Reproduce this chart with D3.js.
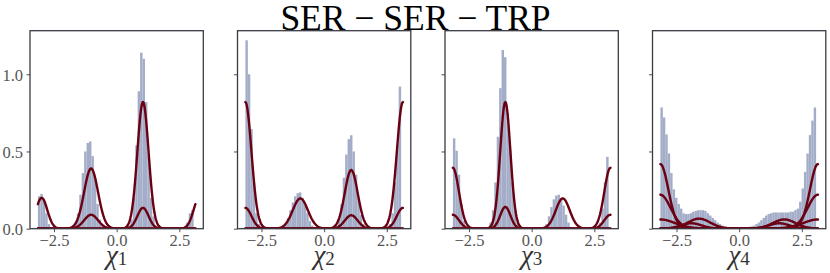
<!DOCTYPE html>
<html><head><meta charset="utf-8">
<script src="https://cdn.jsdelivr.net/npm/d3@7"></script>
<style>body{margin:0;background:#fff}svg{display:block}</style>
</head><body>
<svg id="chart" width="830" height="273"></svg>
<script>
// ---- data ----
const title = "SER \u2212 SER \u2212 TRP";
const panelLabels = ["1", "2", "3", "4"];
const xTicks = [-2.5, 0.0, 2.5];
const yTicks = [0.0, 0.5, 1.0];
const histRange = [-3.14, 3.07];
const binCount = 64;
const hist1 = [0.21,0.225,0.19,0.1,0.03,0.01, 0,0,0,0,0,0,0,0,
  0.01,0.04,0.1,0.22,0.36,0.5,0.555,0.565,0.47,0.32,0.16,0.06,0.02,
  0,0,0,0,0,0,0,0,0,0,
  0.02,0.06,0.2,0.54,0.89,1.14,1.1,0.82,0.48,0.2,0.08,0.02,
  0,0,0,0,0,0,0,0,0,0,0,
  0.01,0.04,0.1,0.12];
const hist2 = [1.22,1.0,0.645,0.3,0.1,0.03,0.01, 0,0,0,0,0,0,0,0,
  0.01,0.03,0.07,0.12,0.17,0.21,0.23,0.235,0.2,0.15,0.1,0.05,0.02,0.01,
  0,0,0,0,0,0,0,0,
  0.02,0.06,0.16,0.33,0.48,0.58,0.605,0.5,0.35,0.2,0.09,0.03,0.01,
  0,0,0,0,0,0,0,0,
  0.01,0.03,0.1,0.3,0.54,0.92];
const hist3 = [0.585,0.505,0.35,0.16,0.05,0.01, 0,0,0,0,0,0,0,0,
  0.01,0.04,0.12,0.3,0.595,0.91,1.157,1.11,0.75,0.51,0.3,0.12,0.04,0.01,
  0,0,0,0,0,0,0,0,
  0,0.01,0.03,0.08,0.14,0.19,0.215,0.22,0.2,0.15,0.09,0.04,0.01,0,
  0,0,0,0,0,0,0,0,
  0.005,0.01,0.04,0.13,0.3,0.465];
const hist4 = [0.785,0.72,0.61,0.487,0.36,0.255,0.2,0.16,0.13,0.1,0.095,0.095,0.1,0.11,0.115,0.12,
  0.12,0.12,0.115,0.1,0.085,0.07,0.055,0.04,0.03,0.02,0.015,0.012,0.01,0.008,0.006,0.005,
  0.005,0.006,0.008,0.01,0.012,0.015,0.02,0.03,0.04,0.055,0.07,0.085,0.095,0.1,0.105,0.105,
  0.105,0.105,0.105,0.105,0.105,0.11,0.11,0.12,0.13,0.175,0.26,0.368,0.487,0.606,0.7,0.785];
// fitted components: [centre, peak height, concentration]
const comps1 = [[-2.99,0.2,20],[-1.02,0.39,13],[-1.02,0.09,13],[1.05,0.82,20],[1.05,0.135,20]];
const comps2 = [[3.1416,0.82,17],[3.1416,0.135,17],[-0.95,0.196,11],[1.08,0.38,15],[1.08,0.087,15]];
const comps3 = [[3.1416,0.394,17],[3.1416,0.09,17],[-1.05,0.82,24],[-1.05,0.141,24],[1.24,0.196,13]];
const comps4 = [[3.1416,0.418,10],[3.1416,0.22,6],[3.1416,0.06,3],[-1.6,0.065,5],[1.8,0.06,5],[-1.9,0.035,6],[1.6,0.035,6]];
const curveRange = [-Math.PI, Math.PI];

const hists = [hist1, hist2, hist3, hist4];
const comps = [comps1, comps2, comps3, comps4];

// ---- layout ----
const svg = d3.select("#chart");
const plotTop = 30.7, plotBottom = 228.7;
const panelW = 173.3, gap = 207.5, left0 = 30;
const barColor = "#a3adc8";
const lineColor = "#6b0012";
const spineColor = "#3a3a44";
const tickTextColor = "#555";
const serif = "'Liberation Serif','Times New Roman',serif";

const y = d3.scaleLinear().domain([0, 1.282]).range([plotBottom, plotTop]);

svg.append("text")
  .attr("x", 415.5).attr("y", 29.5)
  .attr("text-anchor", "middle")
  .style("font-family", serif).style("font-size", "35.5px").style("fill", "#000")
  .text(title);

const defs = svg.append("defs");

hists.forEach((hist, i) => {
  const x0 = left0 + i * gap;
  const x = d3.scaleLinear().domain([-3.456, 3.456]).range([x0, x0 + panelW]);
  defs.append("clipPath").attr("id", "clip" + i).append("rect")
    .attr("x", x0).attr("y", plotTop).attr("width", panelW).attr("height", plotBottom - plotTop);
  const g = svg.append("g");
  const plot = g.append("g").attr("clip-path", `url(#clip${i})`);
  const bw = (histRange[1] - histRange[0]) / binCount;
  const bins = hist.map((v, k) => ({a: histRange[0] + k * bw, b: histRange[0] + (k + 1) * bw, v}));
  plot.selectAll("rect.bar").data(bins).enter().append("rect")
    .attr("class", "bar")
    .attr("x", d => x(d.a)).attr("width", d => x(d.b) - x(d.a))
    .attr("y", d => y(d.v)).attr("height", d => y(0) - y(d.v))
    .attr("fill", barColor);

  const xs = d3.range(0, 301).map(k => curveRange[0] + (curveRange[1] - curveRange[0]) * k / 300);
  const line = d3.line().x(d => x(d[0])).y(d => y(d[1]));
  comps[i].forEach(c => {
    const pts = xs.map(t => [t, c[1] * Math.exp(c[2] * (Math.cos(t - c[0]) - 1))]);
    plot.append("path").attr("d", line(pts))
      .attr("fill", "none").attr("stroke", lineColor)
      .attr("stroke-width", 2.4).attr("stroke-linejoin", "round").attr("stroke-linecap", "round");
  });

  g.append("rect").attr("x", x0).attr("y", plotTop).attr("width", panelW).attr("height", plotBottom - plotTop)
    .attr("fill", "none").attr("stroke", spineColor).attr("stroke-width", 1.3);

  const xa = g.append("g").attr("transform", `translate(0,${plotBottom})`)
    .call(d3.axisBottom(x).tickValues(xTicks).tickSize(3.5).tickPadding(2.5)
      .tickFormat(d => d3.format(".1f")(d).replace("-", "\u2212")));
  xa.select(".domain").remove();
  xa.selectAll("line").attr("stroke", spineColor).attr("stroke-width", 0.9);
  xa.selectAll("text").style("font-family", serif).style("font-size", "16.5px").style("fill", tickTextColor);

  const ya = g.append("g").attr("transform", `translate(${x0},0)`)
    .call(d3.axisLeft(y).tickValues(yTicks).tickSize(3.5).tickPadding(3.5)
      .tickFormat(i === 0 ? d3.format(".1f") : () => ""));
  ya.select(".domain").remove();
  ya.selectAll("line").attr("stroke", spineColor).attr("stroke-width", 0.9);
  ya.selectAll("text").style("font-family", serif).style("font-size", "16.5px").style("fill", tickTextColor)
    .attr("dy", "0.35em");

  const lab = g.append("text").attr("x", x0 + panelW / 2).attr("y", 263.5)
    .attr("text-anchor", "middle").style("font-family", serif).style("fill", "#333");
  lab.append("tspan").style("font-style", "italic").style("font-size", "27px").text("\u03C7");
  lab.append("tspan").attr("dy", 1.5).style("font-size", "19px").text(panelLabels[i]);
});
</script>
</body></html>
